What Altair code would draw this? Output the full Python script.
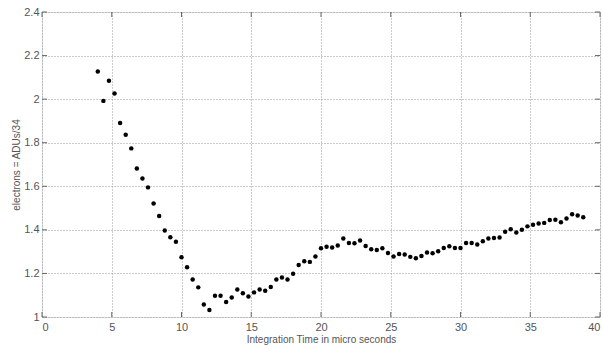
import altair as alt
import pandas as pd

x_values = [4.0, 4.4, 4.8, 5.2, 5.6, 6.0, 6.4, 6.8, 7.2, 7.6,
            8.0, 8.4, 8.8, 9.2, 9.6, 10.0, 10.4, 10.8, 11.2, 11.6,
            12.0, 12.4, 12.8, 13.2, 13.6, 14.0, 14.4, 14.8, 15.2, 15.6,
            16.0, 16.4, 16.8, 17.2, 17.6, 18.0, 18.4, 18.8, 19.2, 19.6,
            20.0, 20.4, 20.8, 21.2, 21.6, 22.0, 22.4, 22.8, 23.2, 23.6,
            24.0, 24.4, 24.8, 25.2, 25.6, 26.0, 26.4, 26.8, 27.2, 27.6,
            28.0, 28.4, 28.8, 29.2, 29.6, 30.0, 30.4, 30.8, 31.2, 31.6,
            32.0, 32.4, 32.8, 33.2, 33.6, 34.0, 34.4, 34.8, 35.2, 35.6,
            36.0, 36.4, 36.8, 37.2, 37.6, 38.0, 38.4, 38.8]
y_values = [2.127, 1.992, 2.084, 2.026, 1.891, 1.837, 1.774, 1.682, 1.636, 1.595,
            1.521, 1.464, 1.397, 1.366, 1.345, 1.274, 1.228, 1.172, 1.136, 1.057,
            1.032, 1.098, 1.098, 1.069, 1.090, 1.126, 1.109, 1.094, 1.113, 1.126,
            1.120, 1.138, 1.172, 1.181, 1.172, 1.199, 1.239, 1.256, 1.253, 1.278,
            1.316, 1.322, 1.319, 1.328, 1.360, 1.340, 1.339, 1.351, 1.326, 1.311,
            1.308, 1.316, 1.294, 1.278, 1.289, 1.287, 1.276, 1.270, 1.280, 1.296,
            1.293, 1.302, 1.317, 1.325, 1.317, 1.317, 1.340, 1.340, 1.333, 1.348,
            1.360, 1.363, 1.365, 1.391, 1.403, 1.388, 1.400, 1.416, 1.423, 1.429,
            1.432, 1.445, 1.446, 1.435, 1.452, 1.472, 1.466, 1.458]
x_ticks = [0, 5, 10, 15, 20, 25, 30, 35, 40]
y_ticks = [1.0, 1.2, 1.4, 1.6, 1.8, 2.0, 2.2, 2.4]

W, H = 558, 305
FONT = "Liberation Sans"
TXT = "#555555"

df = pd.DataFrame({"x": x_values, "y": y_values})
xt = pd.DataFrame({"t": x_ticks})
yt = pd.DataFrame({"t": y_ticks})

xscale = alt.Scale(domain=[0, 40], nice=False, zero=False)
yscale = alt.Scale(domain=[1, 2.4], nice=False, zero=False)

xaxis = alt.Axis(values=x_ticks, grid=True, gridDash=[1, 2], gridColor="#999999",
                 gridOpacity=1, ticks=False, domain=False, labelFont=FONT,
                 labelFontSize=11, labelColor=TXT, labelPadding=4,
                 title="Integration Time in micro seconds", titleFont=FONT,
                 titleFontSize=10, titleFontWeight="normal", titleColor=TXT,
                 titlePadding=2, format="d")
yaxis = alt.Axis(values=y_ticks, grid=True, gridDash=[1, 2], gridColor="#999999",
                 gridOpacity=1, ticks=False, domain=False, labelFont=FONT,
                 labelFontSize=11, labelColor=TXT, labelPadding=3,
                 title="electrons = ADUs/34", titleFont=FONT, titleFontSize=10,
                 titleFontWeight="normal", titleColor=TXT, titlePadding=2,
                 labelExpr="datum.value == 1 || datum.value == 2 ? format(datum.value, 'd') : format(datum.value, '.1f')")

points = alt.Chart(df).mark_circle(size=20, color="black", opacity=1).encode(
    x=alt.X("x:Q", scale=xscale, axis=xaxis),
    y=alt.Y("y:Q", scale=yscale, axis=yaxis),
)

tick_col = "#666666"
xt_bottom = alt.Chart(xt).mark_rule(color=tick_col, strokeWidth=1).encode(
    x=alt.X("t:Q", scale=xscale), y=alt.value(H), y2=alt.value(H - 5))
xt_top = alt.Chart(xt).mark_rule(color=tick_col, strokeWidth=1).encode(
    x=alt.X("t:Q", scale=xscale), y=alt.value(0), y2=alt.value(5))
yt_left = alt.Chart(yt).mark_rule(color=tick_col, strokeWidth=1).encode(
    y=alt.Y("t:Q", scale=yscale), x=alt.value(0), x2=alt.value(5))
yt_right = alt.Chart(yt).mark_rule(color=tick_col, strokeWidth=1).encode(
    y=alt.Y("t:Q", scale=yscale), x=alt.value(W), x2=alt.value(W - 5))

chart = alt.layer(points, xt_bottom, xt_top, yt_left, yt_right).properties(
    width=W, height=H,
    autosize=alt.AutoSizeParams(type="none"),
    padding={"left": 42, "top": 12, "right": 3, "bottom": 28},
).configure_view(stroke="#555555", strokeWidth=1).configure(background="white")

chart.save("out.html", embed_options={"renderer": "svg", "actions": False})
